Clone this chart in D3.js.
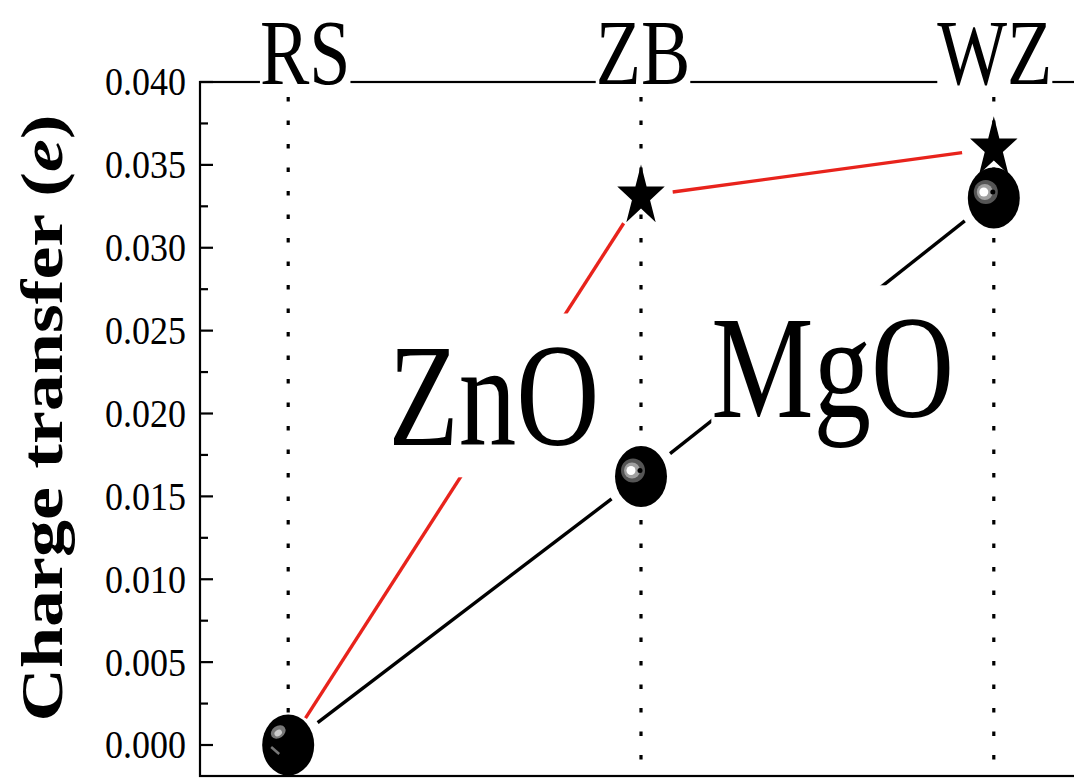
<!DOCTYPE html>
<html>
<head>
<meta charset="utf-8">
<script src="https://cdn.jsdelivr.net/npm/d3@7"></script>
<style>
  body { margin: 0; background: #fff; }
  text { font-family: "Liberation Serif", "Times New Roman", serif; }
</style>
</head>
<body>
<div id="chart"></div>
<script>
// phases along the x axis
var phases = ["RS", "ZB", "WZ"];
// charge transfer (e) per phase
var zno = [0.000, 0.0331, 0.036];
var mgo = [0.000, 0.0162, 0.033];
var yTicks = [0.000, 0.005, 0.010, 0.015, 0.020, 0.025, 0.030, 0.035, 0.040];
var yMinor = [0.0025, 0.0075, 0.0125, 0.0175, 0.0225, 0.0275, 0.0325, 0.0375];

var width = 1074, height = 778;
var margin = { top: 82, left: 200, bottom: 2, right: -8 };
var stretch = 1.28; // picture is taller than wide

var svg = d3.select("#chart").append("svg")
    .attr("width", width)
    .attr("height", height);

var x = d3.scaleLinear()
    .domain([-0.25, 2.25])
    .range([margin.left, width - margin.right]);
var y = d3.scaleLinear()
    .domain([-0.00187, 0.040])
    .range([height - margin.bottom, margin.top]);

// frame
svg.append("rect")
    .attr("x", x(-0.25)).attr("y", y(0.040))
    .attr("width", x(2.25) - x(-0.25))
    .attr("height", y(-0.00187) - y(0.040))
    .attr("stroke", "#000").attr("stroke-width", 2.2).attr("fill", "none");

// y ticks (inside)
svg.append("g").selectAll("line")
    .data(yTicks).enter().append("line")
    .attr("x1", x(-0.25)).attr("x2", x(-0.25) + 13)
    .attr("y1", function (d) { return y(d); })
    .attr("y2", function (d) { return y(d); })
    .attr("stroke", "#000").attr("stroke-width", 2.2);
svg.append("g").selectAll("line")
    .data(yMinor).enter().append("line")
    .attr("x1", x(-0.25)).attr("x2", x(-0.25) + 8)
    .attr("y1", function (d) { return y(d); })
    .attr("y2", function (d) { return y(d); })
    .attr("stroke", "#000").attr("stroke-width", 2.2);

svg.append("g").selectAll("text")
    .data(yTicks).enter().append("text")
    .attr("transform", function (d) { return "translate(" + (x(-0.25) - 14) + "," + y(d) + ") scale(1,1.1)"; })
    .attr("dy", "0.34em")
    .style("text-anchor", "end")
    .style("font-size", "36px")
    .text(d3.format(".3f"));

// axis title
var title = svg.append("text")
    .attr("transform", "translate(62,418) rotate(-90)")
    .style("text-anchor", "middle")
    .style("font-size", "60px")
    .style("font-weight", "bold")
    .attr("textLength", 607)
    .attr("lengthAdjust", "spacingAndGlyphs");
title.append("tspan").text("Charge transfer (");
title.append("tspan").style("font-style", "italic").text("e");
title.append("tspan").text(")");

// series lines, cut short near the symbols
function gapLine(vals, colour, gap) {
    var pts = vals.map(function (v, i) { return [x(i), y(v)]; });
    var g = svg.append("g");
    for (var i = 0; i < pts.length - 1; i++) {
        var a = pts[i], b = pts[i + 1];
        var dx = b[0] - a[0], dy = b[1] - a[1];
        var len = Math.sqrt(dx * dx + dy * dy);
        var ux = dx / len, uy = dy / len;
        g.append("path")
            .attr("d", d3.line()([[a[0] + ux * gap, a[1] + uy * gap], [b[0] - ux * gap, b[1] - uy * gap]]))
            .attr("stroke", colour)
            .attr("stroke-width", 3.4)
            .attr("fill", "none");
    }
}
gapLine(zno, "#e8231c", 32);
gapLine(mgo, "#000", 37);

// labels with white boxes that cover what is behind them
function boxedLabel(txt, px, py, size, anchor, sy) {
    var g = svg.append("g")
        .attr("transform", "translate(" + px + "," + py + ") scale(1," + sy + ")");
    var t = g.append("text")
        .style("font-size", size + "px")
        .style("text-anchor", anchor)
        .text(txt);
    var bb = t.node().getBBox();
    g.insert("rect", "text")
        .attr("x", bb.x).attr("y", bb.y)
        .attr("width", bb.width).attr("height", bb.height)
        .attr("fill", "#fff");
}

var topShift = [17, 2, 1];
phases.forEach(function (p, i) {
    boxedLabel(p, x(i) + topShift[i], y(0.040) + 2, 74, "middle", 1.26);
});
boxedLabel("ZnO", x(0.29) - 2, y(0.0181), 115, "start", stretch);
boxedLabel("MgO", x(1.205) - 2, y(0.0198), 115, "start", stretch);

// dotted phase lines
svg.append("g").selectAll("line")
    .data(phases).enter().append("line")
    .attr("x1", function (d, i) { return x(i); })
    .attr("x2", function (d, i) { return x(i); })
    .attr("y1", y(0.040) + 15)
    .attr("y2", height)
    .attr("stroke", "#000")
    .attr("stroke-width", 3.2)
    .attr("stroke-dasharray", "4.5,19");

// MgO balls
var balls = svg.append("g").selectAll("g")
    .data(mgo).enter().append("g")
    .attr("transform", function (d, i) { return "translate(" + x(i) + "," + y(d) + ")"; });
balls.append("ellipse").attr("rx", 26).attr("ry", 30.5).attr("fill", "#000");
var shiny = balls.filter(function (d, i) { return i > 0; });
shiny.append("circle").attr("cx", -8).attr("cy", -6).attr("r", 12).attr("fill", "#555");
shiny.append("circle").attr("cx", -9).attr("cy", -6).attr("r", 8).attr("fill", "#a0a0a0");
shiny.append("circle").attr("cx", -10).attr("cy", -6).attr("r", 4.5).attr("fill", "#fff");
shiny.append("circle").attr("cx", -1).attr("cy", -6).attr("r", 2.5).attr("fill", "#000");
var glossy = balls.filter(function (d, i) { return i === 0; });
glossy.append("ellipse").attr("cx", -10).attr("cy", -13).attr("rx", 8).attr("ry", 6)
    .attr("transform", "rotate(-35,-10,-13)").attr("fill", "#777");
glossy.append("ellipse").attr("cx", -10).attr("cy", -12).attr("rx", 4).attr("ry", 3)
    .attr("transform", "rotate(-35,-10,-12)").attr("fill", "#ccc");
glossy.append("path").attr("d", "M-17,2 L-9,9").attr("stroke", "#777").attr("stroke-width", 2.5);

// ZnO stars (not at RS, hidden under the ball there)
svg.append("g").selectAll("path")
    .data(zno).enter().append("path")
    .filter(function (d, i) { return i > 0; })
    .attr("d", d3.symbol(d3.symbolStar, 700))
    .attr("transform", function (d, i) { return "translate(" + x(i + 1) + "," + y(d) + ") scale(1," + stretch + ")"; })
    .attr("fill", "#000");
</script>
</body>
</html>
